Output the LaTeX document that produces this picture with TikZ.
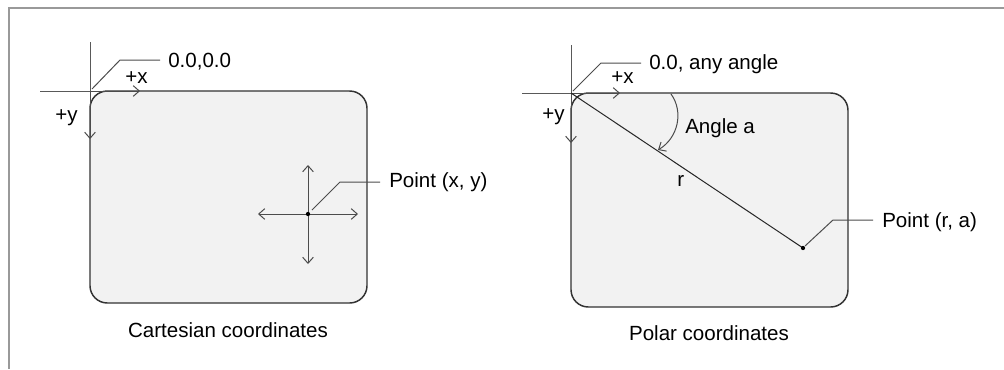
\documentclass[tikz,border=0pt]{standalone}
\usepackage{fontspec}
\setmainfont{Liberation Sans}
\usetikzlibrary{arrows.meta}
\tikzset{
  frameline/.style={draw=black!40, line width=1.5pt},
  panel/.style={draw=black!80, line width=1.1pt, fill=black!5, rounded corners=13pt},
  axisline/.style={draw=black!65, line width=0.75pt},
  arrowline/.style={draw=black!70, line width=0.75pt, -{Straight Barb[length=4.5pt,width=8pt]}},
  twoarrow/.style={draw=black!70, line width=0.75pt, {Straight Barb[length=4.5pt,width=8pt]}-{Straight Barb[length=4.5pt,width=8pt]}},
  leader/.style={draw=black!70, line width=0.75pt},
  rline/.style={draw=black!85, line width=0.75pt},
  lbl/.style={inner sep=0pt, font=\fontsize{15.4}{18}\selectfont, text=black},
}
\begin{document}
\begin{tikzpicture}[x=0.75pt,y=-0.75pt]
\useasboundingbox (0,0) rectangle (1004,369);
% frame
\coordinate (fTR) at (1004,8);
\coordinate (fTL) at (9,8);
\coordinate (fBL) at (9,369);
\draw[frameline] (fTR) -- (fTL) -- (fBL);

% ---------- Cartesian ----------
\draw[panel] (90,91) rectangle (367,303);
\coordinate (cxa) at (40,91);
\coordinate (cxb) at (140,91);
\coordinate (cya) at (90,42);
\coordinate (cyb) at (90,139);
\draw[axisline] (cxa) -- (90,91);
\draw[arrowline] (90,91) -- (cxb);
\draw[axisline] (cya) -- (90,91);
\draw[arrowline] (90,91) -- (cyb);
\coordinate (cl0) at (92,89);
\coordinate (cl1) at (120,60);
\coordinate (cl2) at (160,60);
\draw[leader] (cl0) -- (cl1) -- (cl2);
\node[lbl, anchor=base west] (corig) at (168,67) {0.0,0.0};
\node[lbl, anchor=base west] (cpx) at (125,83) {+x};
\node[lbl, anchor=base west] (cpy) at (55,121) {+y};

\coordinate (pt) at (308,214);
\coordinate (ptl) at (258,214);
\coordinate (ptr) at (358,214);
\coordinate (ptu) at (308,165);
\coordinate (ptd) at (308,264);
\draw[twoarrow] (ptl) -- (ptr);
\draw[twoarrow] (ptu) -- (ptd);
\fill[black] (pt) circle (1.6pt);
\coordinate (pl0) at (312,210);
\coordinate (pl1) at (340,182);
\coordinate (pl2) at (380,182);
\draw[leader] (pl0) -- (pl1) -- (pl2);
\node[lbl, anchor=base west] (cpt) at (389,187) {Point (x, y)};
\node[lbl, anchor=base] (ccap) at (228,337) {Cartesian coordinates};

% ---------- Polar ----------
\draw[panel] (571,93) rectangle (848,307);
\coordinate (po) at (571,93);
\coordinate (pxa) at (522,93);
\coordinate (pxb) at (620,93);
\coordinate (pya) at (571,45);
\coordinate (pyb) at (571,143);
\draw[axisline] (pxa) -- (po);
\draw[arrowline] (po) -- (pxb);
\draw[axisline] (pya) -- (po);
\draw[arrowline] (po) -- (pyb);
\coordinate (ql0) at (573,91);
\coordinate (ql1) at (601,63);
\coordinate (ql2) at (641,63);
\draw[leader] (ql0) -- (ql1) -- (ql2);
\node[lbl, anchor=base west] (porig) at (649,69) {0.0, any angle};
\node[lbl, anchor=base west] (ppx) at (611,83) {+x};
\node[lbl, anchor=base west] (ppy) at (542,120) {+y};

\coordinate (rp) at (803,248);
\draw[rline] (po) -- (rp);
\fill[black] (rp) circle (1.6pt);
\coordinate (al0) at (671,94);
\coordinate (al1) at (658,150);
\draw[arrowline] (al0) .. controls (684,112) and (678,138) .. (al1);
\node[lbl, anchor=base west] (pang) at (685,133) {Angle a};
\node[lbl, anchor=base west] (pr) at (677,186) {r};
\coordinate (rl0) at (805,246);
\coordinate (rl1) at (833,220);
\coordinate (rl2) at (873,220);
\draw[leader] (rl0) -- (rl1) -- (rl2);
\node[lbl, anchor=base west] (ppt) at (882,227) {Point (r, a)};
\node[lbl, anchor=base] (pcap) at (709,340) {Polar coordinates};
\end{tikzpicture}
\end{document}
